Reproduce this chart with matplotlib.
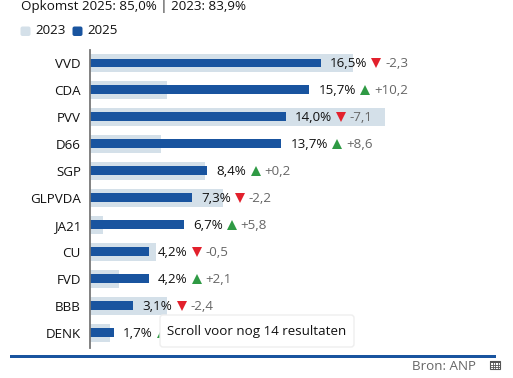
import matplotlib
matplotlib.use("Agg")
import matplotlib.pyplot as plt
from matplotlib.patches import FancyBboxPatch, Rectangle

plt.rcParams['font.family'] = ['Open Sans', 'DejaVu Sans']

parties = ["VVD", "CDA", "PVV", "D66", "SGP", "GLPVDA", "JA21", "CU", "FVD", "BBB", "DENK"]
v2025 = [16.5, 15.7, 14.0, 13.7, 8.4, 7.3, 6.7, 4.2, 4.2, 3.1, 1.7]
v2023 = [18.8, 5.5, 21.1, 5.1, 8.2, 9.5, 0.9, 4.7, 2.1, 5.5, 1.4]
# DENK's change is hidden behind the tooltip, only a bit of its triangle shows
delta = ["-2,3", "+10,2", "-7,1", "+8,6", "+0,2", "-2,2", "+5,8", "-0,5", "+2,1", "-2,4", "+"]

W, H = 513, 378
BLUE = "#19549f"
LIGHT = "#d4e0e9"
GREY = "#666666"
FS = 9.6

fig = plt.figure(figsize=(W / 100, H / 100), dpi=100)

ax = fig.add_axes([90 / W, 1 - 348 / H, (W - 90) / W, 298 / H])
ax.set_xlim(0, (W - 90) / 13.97)
ax.set_ylim(10.56, -0.48)
ax.barh(range(len(parties)), v2023, height=0.67, color=LIGHT)
ax.barh(range(len(parties)), v2025, height=0.33, color=BLUE)
ax.patch.set_alpha(0)
for s in ["top", "right", "bottom"]:
    ax.spines[s].set_visible(False)
ax.spines["left"].set_color("#777777")
ax.spines["left"].set_linewidth(1.3)
ax.set_xticks([])
ax.set_yticks(range(len(parties)))
ax.set_yticklabels(parties, fontsize=FS, color="#111111")
ax.tick_params(axis="y", length=0, pad=6.5)

# labels: value, triangle, change
renderer = fig.canvas.get_renderer()
for i, (v, d) in enumerate(zip(v2025, delta)):
    label = f"{v:.1f}%".replace(".", ",")
    t = ax.annotate(label, (v, i), xytext=(6.8, -0.3), textcoords="offset points",
                    va="center", ha="left", fontsize=FS, color="#111111")
    x1 = t.get_window_extent(renderer).x1
    up = d.startswith("+")
    tri_x = ax.transData.inverted().transform((x1 + 9, 0))[0]
    ax.plot(tri_x, i, marker="^" if up else "v", ms=7, mew=0,
            color="#2f9a44" if up else "#e2202c", zorder=3)
    if len(d) > 1:
        ax.annotate(d, (tri_x, i), xytext=(6.3, -0.3), textcoords="offset points",
                    va="center", ha="left", fontsize=FS, color=GREY)

# overlay axes for the page furniture, in pixels
ov = fig.add_axes([0, 0, 1, 1], zorder=5)
ov.set_xlim(0, W)
ov.set_ylim(H, 0)
ov.axis("off")

ov.text(21, 10, "Opkomst 2025: 85,0% | 2023: 83,9%", fontsize=FS, va="baseline", color="#111111")
for x, c, lab in [(20.5, LIGHT, "2023"), (72.5, BLUE, "2025")]:
    ov.add_patch(FancyBboxPatch((x, 26.5), 10, 9.5, boxstyle="round,pad=0,rounding_size=2",
                                fc=c, ec="none"))
    ov.text(x + 14.5, 31, lab, fontsize=FS, va="center", color="#111111")

ov.add_patch(FancyBboxPatch((160, 315), 194, 32, boxstyle="round,pad=0,rounding_size=3",
                            fc="white", ec="#eeeeee", lw=1))
ov.text(167, 331, "Scroll voor nog 14 resultaten", fontsize=FS, va="center", color="#111111")

ov.add_patch(Rectangle((10, 355), 486, 3, fc=BLUE, ec="none"))
ov.text(476, 367, "Bron: ANP", fontsize=FS, va="center", ha="right", color=GREY)

# table icon
ov.add_patch(Rectangle((490, 360.5), 10, 8.5, fc="white", ec="#555555", lw=0.8))
ov.add_patch(Rectangle((490, 360.5), 10, 2, fc="#555555", ec="none"))
for gx in [492.5, 495, 497.5]:
    ov.plot([gx, gx], [360.5, 369], color="#555555", lw=0.6)
for gy in [364.5, 366.8]:
    ov.plot([490, 500], [gy, gy], color="#555555", lw=0.6)

fig.savefig("out.png", dpi=100)
